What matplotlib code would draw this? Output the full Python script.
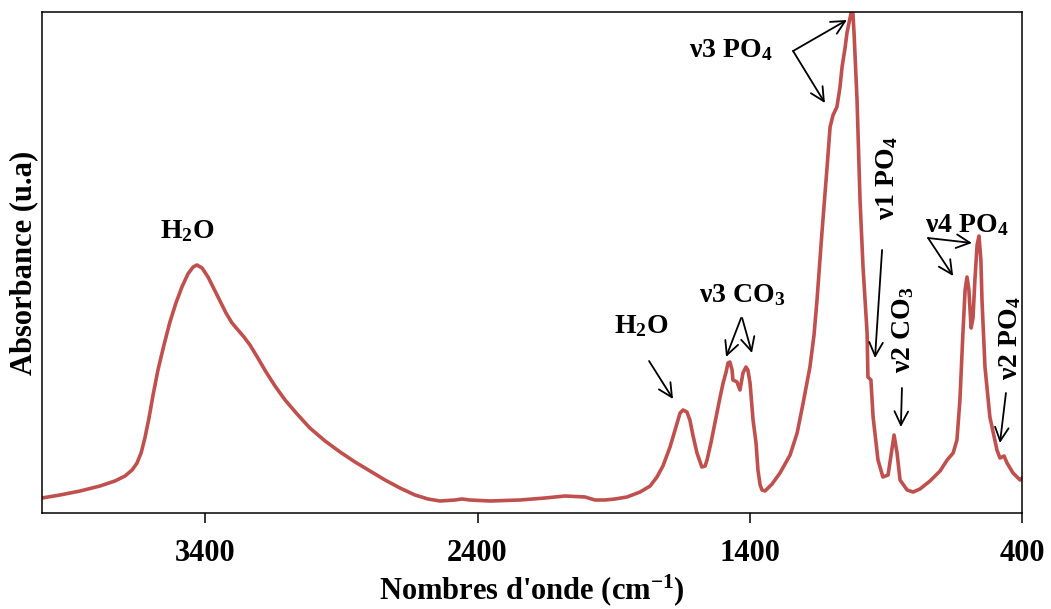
import numpy as np
import matplotlib
matplotlib.use('Agg')
import matplotlib.pyplot as plt

# Spectre IR, unités arbitraires
wavenumber = [4000, 3934, 3860, 3787, 3732, 3695, 3669, 3651, 3636, 3622,
              3607, 3592, 3574, 3552, 3530, 3508, 3486, 3464, 3445, 3431,
              3412, 3390, 3368, 3346, 3324, 3302, 3280, 3258, 3236, 3207,
              3177, 3144, 3107, 3063, 3016, 2960, 2905, 2850, 2795, 2740,
              2685, 2630, 2582, 2538, 2483, 2457, 2428, 2354, 2244, 2152,
              2079, 2005, 1969, 1932, 1895, 1851, 1803, 1766, 1741, 1719,
              1693, 1667, 1656, 1645, 1631, 1620, 1609, 1594, 1576, 1564,
              1557, 1542, 1528, 1509, 1498, 1487, 1480, 1473, 1465, 1462,
              1454, 1447, 1436, 1425, 1414, 1407, 1399, 1388, 1377, 1370,
              1362, 1355, 1344, 1318, 1289, 1252, 1226, 1204, 1179, 1164,
              1153, 1135, 1116, 1105, 1094, 1080, 1069, 1061, 1050, 1043,
              1028, 1021, 1017, 1006, 995, 984, 969, 966, 955, 947,
              929, 911, 892, 878, 870, 859, 848, 822, 800, 775,
              738, 701, 675, 653, 639, 628, 617, 609, 602, 595,
              587, 580, 573, 565, 558, 551, 547, 536, 518, 492,
              481, 466, 455, 433, 407, 400]
absorbance = [15, 18, 22, 27, 32, 37, 43, 50, 60, 75,
              95, 118, 143, 168, 191, 210, 226, 239, 246, 248,
              245, 236, 224, 212, 200, 190, 183, 176, 168, 155,
              141, 127, 113, 99, 85, 72, 61, 51, 42, 33,
              25, 18, 14, 12, 13, 14, 13, 12, 13, 15,
              17, 16, 13, 13, 14, 16, 21, 27, 36, 47,
              66, 90, 100, 103, 101, 93, 78, 60, 46, 47,
              53, 71, 90, 116, 130, 141, 150, 151, 143, 133,
              132, 131, 123, 140, 146, 143, 130, 93, 70, 43,
              28, 23, 22, 29, 40, 58, 80, 110, 146, 178,
              213, 280, 346, 386, 398, 406, 425, 446, 465, 480,
              500, 499, 480, 413, 313, 246, 180, 136, 133, 96,
              53, 36, 38, 63, 78, 60, 33, 23, 21, 24,
              32, 42, 53, 60, 73, 113, 180, 223, 236, 223,
              185, 195, 233, 268, 277, 253, 213, 146, 96, 63,
              55, 57, 50, 40, 33, 35]

x_ticks = [3400, 2400, 1400, 400]

# bandes : (texte, position du texte, rotation, [(départ, arrivée) des flèches])
bands = [
    ('H$_2$O', (3466, 275), 0, []),
    ('H$_2$O', (1798, 180), 0, [((1770, 152), (1682, 114))]),
    ('ν3 CO$_3$', (1427, 211), 0, [((1432, 195), (1487, 156)),
                                   ((1428, 195), (1392, 160))]),
    ('ν3 PO$_4$', (1469, 456), 0, [((1241, 462), (1043, 493)),
                                   ((1241, 462), (1124, 410))]),
    ('ν1 PO$_4$', (894, 335), 90, [((914, 263), (940, 155))]),
    ('ν2 CO$_3$', (837, 183), 90, [((841, 125), (845, 86))]),
    ('ν4 PO$_4$', (604, 281), 0, [((745, 275), (584, 270)),
                                  ((745, 275), (653, 237))]),
    ('ν2 PO$_4$', (444, 175), 90, [((459, 120), (481, 70))]),
]

plt.rcParams['font.family'] = ['Liberation Serif', 'DejaVu Serif']
plt.rcParams['font.weight'] = 'bold'
plt.rcParams['axes.labelweight'] = 'bold'
plt.rcParams['mathtext.fontset'] = 'custom'
plt.rcParams['mathtext.rm'] = 'Liberation Serif:bold'
plt.rcParams['mathtext.it'] = 'Liberation Serif:bold'
plt.rcParams['mathtext.bf'] = 'Liberation Serif:bold'

fig = plt.figure(figsize=(10.51, 6.09), dpi=100)
ax = fig.add_axes([42 / 1051, 96 / 609, 980 / 1051, 501 / 609])

ax.plot(wavenumber, absorbance, color='#C0504D', lw=2.6,
        solid_joinstyle='round', solid_capstyle='round')

ax.set_xlim(4000, 400)
ax.set_ylim(0, 501)
ax.set_xticks(x_ticks)
ax.set_xticklabels([str(t) for t in x_ticks])
ax.set_yticks([])
ax.tick_params(axis='x', direction='out', length=7, width=1.1,
               labelsize=22, pad=12)
for sp in ax.spines.values():
    sp.set_linewidth(1.1)

ax.set_xlabel("Nombres d'onde (cm$^{-1}$)", fontsize=22, labelpad=3)
ax.set_ylabel('Absorbance (u.a)', fontsize=22, labelpad=3)

for label, (tx, ty), rot, arrows in bands:
    if rot:
        ax.text(tx, ty, label, ha='center', va='center', rotation=rot,
                fontsize=20)
    else:
        ax.text(tx, ty, label, ha='center', va='baseline', fontsize=20)
    for start, end in arrows:
        ax.annotate('', xy=end, xytext=start,
                    arrowprops=dict(arrowstyle='->, head_length=0.7, head_width=0.35',
                                    color='black', lw=1.3, mutation_scale=14,
                                    shrinkA=0, shrinkB=0))

fig.savefig('out.png', dpi=100)
